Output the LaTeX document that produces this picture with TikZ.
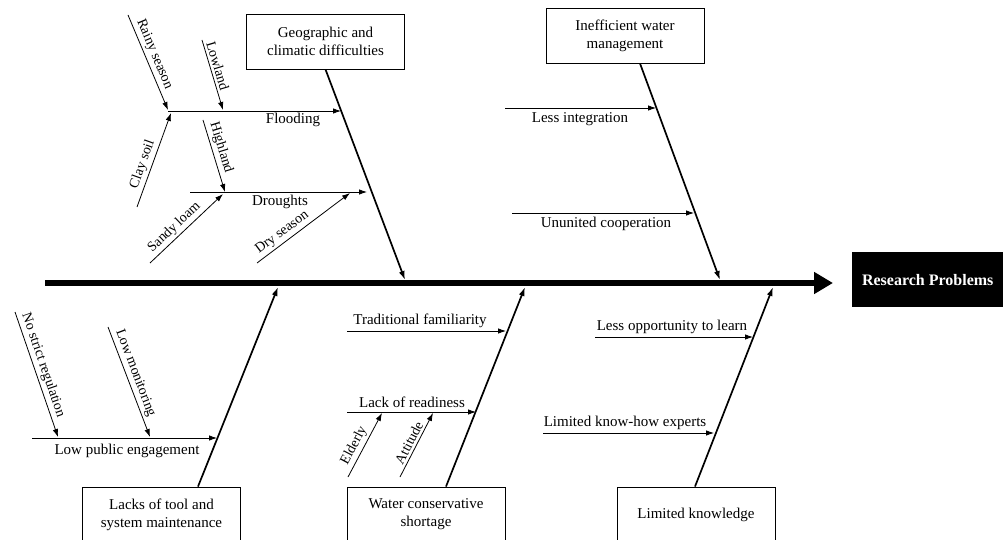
\documentclass[tikz,border=0pt]{standalone}
\usepackage{fontspec}
\setmainfont{Liberation Serif}
\usetikzlibrary{arrows.meta}
\begin{document}
\begin{tikzpicture}[x=1pt,y=-1pt,
  box/.style={draw, line width=0.9pt, minimum width=158pt, minimum height=55pt, align=center, inner sep=2pt, font=\fontsize{15}{18}\selectfont},
  lbl/.style={font=\fontsize{15}{17}\selectfont, inner sep=1pt},
  slbl/.style={font=\fontsize{14}{16}\selectfont, inner sep=2.5pt, sloped, above},
  bone/.style={line width=1.7pt, -{Latex[length=9pt,width=6pt]}},
  rib/.style={line width=0.8pt, -{Latex[length=8pt,width=5.5pt]}},
]
\useasboundingbox (0,0) rectangle (1003,540);

% spine and head
\coordinate (s0) at (45,283);
\coordinate (s1) at (833,283);
\draw[line width=5.5pt, -{Triangle[length=19pt,width=21pt]}] (s0) -- (s1);
\node[fill=black, text=white, minimum width=151pt, minimum height=55pt, anchor=north west, inner sep=0pt, font=\fontsize{16}{18}\selectfont\bfseries] (rp) at (852,252) {Research Problems};

% category boxes
\node[box] (geo) at (325.5,41.5) {Geographic and\\climatic difficulties};
\node[box] (iwm) at (625,35.5) {Inefficient water\\management};
\node[box] (lts) at (161.5,514.5) {Lacks of tool and\\system maintenance};
\node[box] (wcs) at (426,514.5) {Water conservative\\shortage};
\node[box] (lkn) at (696,514.5) {Limited knowledge};

% bone ends on the spine
\coordinate (geoE) at (405,280);
\coordinate (iwmE) at (720,280);
\coordinate (ltsE) at (278,287);
\coordinate (wcsE) at (525,287);
\coordinate (lknE) at (773,287);

\draw[bone] (geo.south) -- (geoE);
\draw[bone] ([xshift=15pt]iwm.south) -- (iwmE);
\draw[bone] ([xshift=36.5pt]lts.north) -- (ltsE);
\draw[bone] ([xshift=20pt]wcs.north) -- (wcsE);
\draw[bone] ([xshift=-1pt]lkn.north) -- (lknE);

% ---- Geographic: Flooding
\coordinate (fl0) at (168,111);
\coordinate (fl1) at (341,111);
\draw[rib] (fl0) -- (fl1);
\node[lbl] (flood) at (293,120) {Flooding};
\coordinate (rs0) at (128,15);
\coordinate (rs1) at (168,110);
\draw[rib] (rs0) -- node[slbl, pos=0.45] (lrs) {Rainy season} (rs1);
\coordinate (lo0) at (202,40);
\coordinate (lo1) at (223,110);
\draw[rib] (lo0) -- node[slbl, pos=0.4] (llo) {Lowland} (lo1);
\coordinate (cs0) at (137,207);
\coordinate (cs1) at (171,113);
\draw[rib] (cs0) -- node[slbl, pos=0.42] (lcs) {Clay soil} (cs1);

% ---- Geographic: Droughts
\coordinate (dr0) at (190,192);
\coordinate (dr1) at (367,192);
\draw[rib] (dr0) -- (dr1);
\node[lbl] (drought) at (280,202) {Droughts};
\coordinate (hl0) at (203,120);
\coordinate (hl1) at (225,192);
\draw[rib] (hl0) -- node[slbl, pos=0.42] (lhl) {Highland} (hl1);
\coordinate (sl0) at (150,263);
\coordinate (sl1) at (223,194);
\draw[rib] (sl0) -- node[slbl, pos=0.42] (lsl) {Sandy loam} (sl1);
\coordinate (ds0) at (257,263);
\coordinate (ds1) at (350,193);
\draw[rib] (ds0) -- node[slbl, pos=0.33] (lds) {Dry season} (ds1);

% ---- Inefficient water management
\coordinate (li0) at (505,108);
\coordinate (li1) at (656,108);
\draw[rib] (li0) -- (li1);
\node[lbl] (lint) at (580,119) {Less integration};
\coordinate (uc0) at (512,213);
\coordinate (uc1) at (694,213);
\draw[rib] (uc0) -- (uc1);
\node[lbl] (ucoop) at (606,224) {Ununited cooperation};

% ---- Lacks of tool and system maintenance
\coordinate (pe0) at (32,438);
\coordinate (pe1) at (217,438);
\draw[rib] (pe0) -- (pe1);
\node[lbl] (lpe) at (127,451) {Low public engagement};
\coordinate (ns0) at (15,312);
\coordinate (ns1) at (58,437);
\draw[rib] (ns0) -- node[slbl, pos=0.45] (lns) {No strict regulation} (ns1);
\coordinate (lm0) at (108,327);
\coordinate (lm1) at (150,437);
\draw[rib] (lm0) -- node[slbl, pos=0.45] (llm) {Low monitoring} (lm1);

% ---- Water conservative shortage
\coordinate (tf0) at (347,331);
\coordinate (tf1) at (506,331);
\draw[rib] (tf0) -- (tf1);
\node[lbl] (ltf) at (420,321) {Traditional familiarity};
\coordinate (lr0) at (347,412);
\coordinate (lr1) at (476,412);
\draw[rib] (lr0) -- (lr1);
\node[lbl] (llr) at (412,402) {Lack of readiness};
\coordinate (el0) at (348,477);
\coordinate (el1) at (382,413);
\draw[rib] (el0) -- node[slbl, pos=0.42] (lel) {Elderly} (el1);
\coordinate (at0) at (400,477);
\coordinate (at1) at (433,413);
\draw[rib] (at0) -- node[slbl, pos=0.48] (lat) {Attitude} (at1);

% ---- Limited knowledge
\coordinate (lo20) at (595,337);
\coordinate (lo21) at (753,337);
\draw[rib] (lo20) -- (lo21);
\node[lbl] (llol) at (672,327) {Less opportunity to learn};
\coordinate (kh0) at (543,433);
\coordinate (kh1) at (714,433);
\draw[rib] (kh0) -- (kh1);
\node[lbl] (lkh) at (625,423) {Limited know-how experts};
\end{tikzpicture}
\end{document}
